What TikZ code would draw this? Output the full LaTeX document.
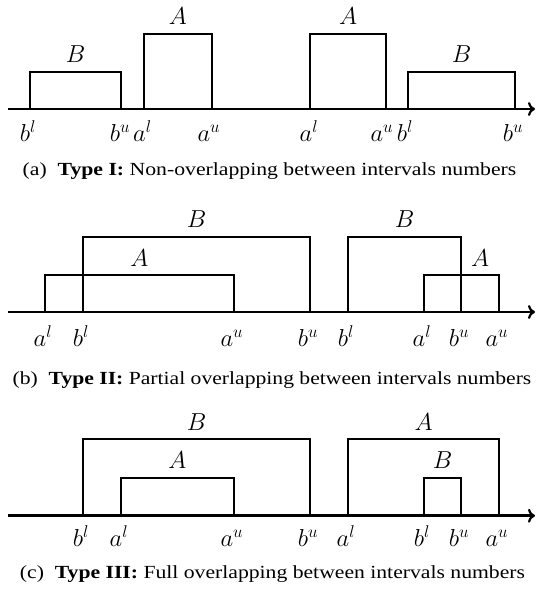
\documentclass[tikz,border=0pt]{standalone}
\usepackage{fontspec}
\newfontfamily\capfont{Liberation Serif}
\usetikzlibrary{arrows.meta}
\tikzset{
  axis/.style={line width=2.8pt,-{To[length=7pt,width=14pt,line width=2.2pt]}},
  ivl/.style={line width=2pt,line join=miter},
  ilabel/.style={anchor=base,inner sep=0pt,font=\fontsize{17.28}{20}\selectfont},
  tlabel/.style={anchor=base,inner sep=0pt,font=\fontsize{17.28}{20}\selectfont},
  caption/.style={anchor=base,inner sep=0pt,font=\capfont\fontsize{18.5}{22}\selectfont},
}
\newcommand\ivlrect[4]{\draw[ivl] (#1,#3) |- (#2,#4) -- (#2,#3);}
\newcommand\mlab[1]{\scalebox{1.42}{$#1$}}
\begin{document}
\begin{tikzpicture}[x=1pt,y=-1pt]
\useasboundingbox (0,0) rectangle (536,596);
% ---------- (a) ----------
\coordinate (a0) at (8,109);
\coordinate (a1) at (535,109);
\draw[axis] (a0) -- (a1);
\ivlrect{30}{121}{109}{72}
\ivlrect{144}{212}{109}{34}
\ivlrect{310}{386}{109}{34}
\ivlrect{408}{515}{109}{72}
\node[ilabel] (aB1) at (75.5,63) {\mlab{B}};
\node[ilabel] (aA1) at (178,25) {\mlab{A}};
\node[ilabel] (aA2) at (348,25) {\mlab{A}};
\node[ilabel] (aB2) at (461.5,63) {\mlab{B}};
\node[tlabel] (at1) at (28,141.5) {\mlab{b^l}};
\node[tlabel] (at2) at (120,141.5) {\mlab{b^u}};
\node[tlabel] (at3) at (142.5,141.5) {\mlab{a^l}};
\node[tlabel] (at4) at (209,141.5) {\mlab{a^u}};
\node[tlabel] (at5) at (309,141.5) {\mlab{a^l}};
\node[tlabel] (at6) at (382,141.5) {\mlab{a^u}};
\node[tlabel] (at7) at (405,141.5) {\mlab{b^l}};
\node[tlabel] (at8) at (513,141.5) {\mlab{b^u}};
\node[caption] (capa) at (269.5,175.7) {\resizebox{493.6pt}{\height}{(a)\enspace\textbf{Type I:} Non-overlapping between intervals numbers}};
% ---------- (b) ----------
\coordinate (b0) at (8,312);
\coordinate (b1) at (535,312);
\draw[axis] (b0) -- (b1);
\ivlrect{45}{234}{312}{275}
\ivlrect{83}{310}{312}{236.7}
\ivlrect{348}{461}{312}{236.7}
\ivlrect{424}{499}{312}{275}
\node[ilabel] (bA1) at (139.5,266) {\mlab{A}};
\node[ilabel] (bB1) at (196.5,227.7) {\mlab{B}};
\node[ilabel] (bB2) at (404.7,227.7) {\mlab{B}};
\node[ilabel] (bA2) at (480,266) {\mlab{A}};
\node[tlabel] (bt1) at (43,346) {\mlab{a^l}};
\node[tlabel] (bt2) at (81,346) {\mlab{b^l}};
\node[tlabel] (bt3) at (232,346) {\mlab{a^u}};
\node[tlabel] (bt4) at (308,346) {\mlab{b^u}};
\node[tlabel] (bt5) at (346,346) {\mlab{b^l}};
\node[tlabel] (bt6) at (422,346) {\mlab{a^l}};
\node[tlabel] (bt7) at (459,346) {\mlab{b^u}};
\node[tlabel] (bt8) at (497,346) {\mlab{a^u}};
\node[caption] (capb) at (272,384.3) {\resizebox{518.6pt}{\height}{(b)\enspace\textbf{Type II:} Partial overlapping between intervals numbers}};
% ---------- (c) ----------
\coordinate (c0) at (8,515.7);
\coordinate (c1) at (535,515.7);
\draw[axis] (c0) -- (c1);
\ivlrect{83}{310}{515.7}{439.3}
\ivlrect{121}{234}{515.7}{477.7}
\ivlrect{348}{499}{515.7}{439.3}
\ivlrect{424}{461}{515.7}{477.7}
\node[ilabel] (cB1) at (196.5,430.3) {\mlab{B}};
\node[ilabel] (cA1) at (177.5,468.7) {\mlab{A}};
\node[ilabel] (cA2) at (423.5,430.3) {\mlab{A}};
\node[ilabel] (cB2) at (442.5,468.7) {\mlab{B}};
\node[tlabel] (ct1) at (81,546.7) {\mlab{b^l}};
\node[tlabel] (ct2) at (119,546.7) {\mlab{a^l}};
\node[tlabel] (ct3) at (232,546.7) {\mlab{a^u}};
\node[tlabel] (ct4) at (308,546.7) {\mlab{b^u}};
\node[tlabel] (ct5) at (346,546.7) {\mlab{a^l}};
\node[tlabel] (ct6) at (422,546.7) {\mlab{b^l}};
\node[tlabel] (ct7) at (459,546.7) {\mlab{b^u}};
\node[tlabel] (ct8) at (497,546.7) {\mlab{a^u}};
\node[caption] (capc) at (272.5,578.3) {\resizebox{505pt}{\height}{(c)\enspace\textbf{Type III:} Full overlapping between intervals numbers}};
\end{tikzpicture}
\end{document}
